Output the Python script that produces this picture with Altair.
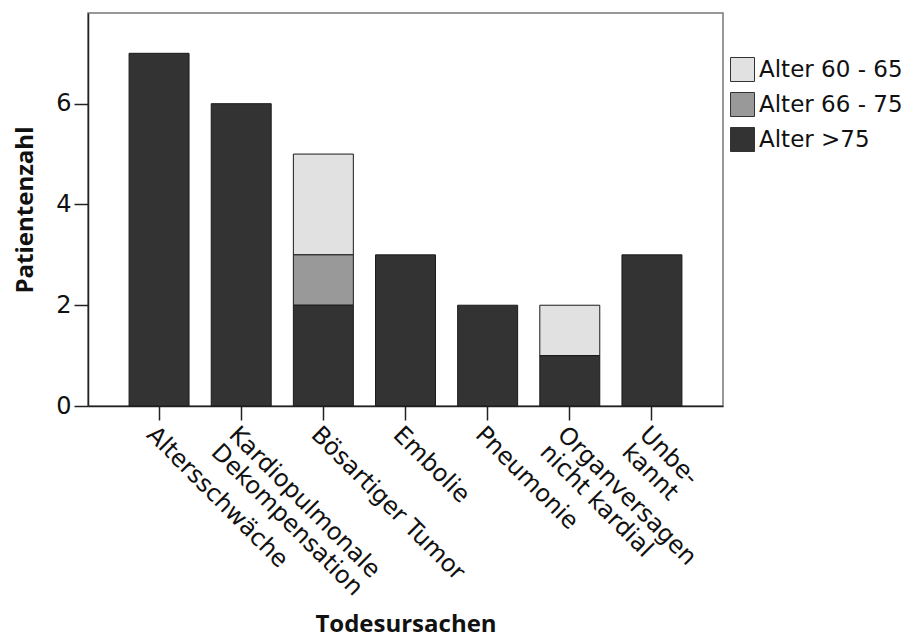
import altair as alt
import pandas as pd

categories = [
    "Altersschwäche",
    "Kardiopulmonale\nDekompensation",
    "Bösartiger Tumor",
    "Embolie",
    "Pneumonie",
    "Organversagen\nnicht kardial",
    "Unbe-\nkannt",
]
groups = ["Alter 60 - 65", "Alter 66 - 75", "Alter >75"]
colors = ["#e1e1e1", "#999999", "#333333"]
stack_order = [2, 1, 0]
age_60_65 = [0, 0, 2, 0, 0, 1, 0]
age_66_75 = [0, 0, 1, 0, 0, 0, 0]
age_over_75 = [7, 6, 2, 3, 2, 1, 3]

rows = []
for gi, (g, vals) in enumerate(zip(groups, [age_60_65, age_66_75, age_over_75])):
    for c, v in zip(categories, vals):
        if v > 0:
            rows.append({"Ursache": c, "Gruppe": g, "Anzahl": v, "ord": stack_order[gi]})
df = pd.DataFrame(rows)

chart = alt.Chart(df).mark_bar(stroke="#1a1a1a", strokeWidth=1).encode(
    x=alt.X(
        "Ursache:N",
        sort=categories,
        title="Todesursachen",
        scale=alt.Scale(paddingInner=0.27, paddingOuter=0.5),
        axis=alt.Axis(
            labelAngle=45,
            labelAlign="left",
            labelBaseline="top",
            labelExpr="split(datum.label, '\\n')",
            labelLineHeight=25,
            labelPadding=2,
            labelLimit=0,
            labelFontSize=24,
            titlePadding=12,
        ),
    ),
    y=alt.Y(
        "Anzahl:Q",
        stack="zero",
        title="Patientenzahl",
        scale=alt.Scale(domain=[0, 7.8], nice=False),
        axis=alt.Axis(values=[0, 2, 4, 6], labelPadding=3, labelFontSize=24, titlePadding=18),
    ),
    color=alt.Color(
        "Gruppe:N",
        scale=alt.Scale(domain=groups, range=colors),
        legend=alt.Legend(
            title=None,
            orient="none",
            legendX=642,
            legendY=44,
            symbolType="square",
            symbolSize=576,
            symbolStrokeColor="#333333",
            symbolStrokeWidth=1,
            labelFont="DejaVu Sans",
            labelFontSize=23,
            labelColor="#111111",
            labelOffset=4,
            rowPadding=6,
        ),
    ),
    order=alt.Order("ord:Q", sort="ascending"),
).properties(width=635, height=393).configure_view(
    stroke="#777777", strokeWidth=1.5
).configure_axis(
    grid=False,
    domainColor="#222222",
    domainWidth=1.5,
    tickColor="#222222",
    tickWidth=1.5,
    tickSize=14,
    labelFont="DejaVu Sans",
    labelFontSize=22,
    labelColor="#111111",
    titleFont="Open Sans",
    titleFontWeight="bold",
    titleFontSize=24,
    titleColor="#111111",
)

chart.save("out.html", embed_options={"renderer": "svg", "actions": False})
